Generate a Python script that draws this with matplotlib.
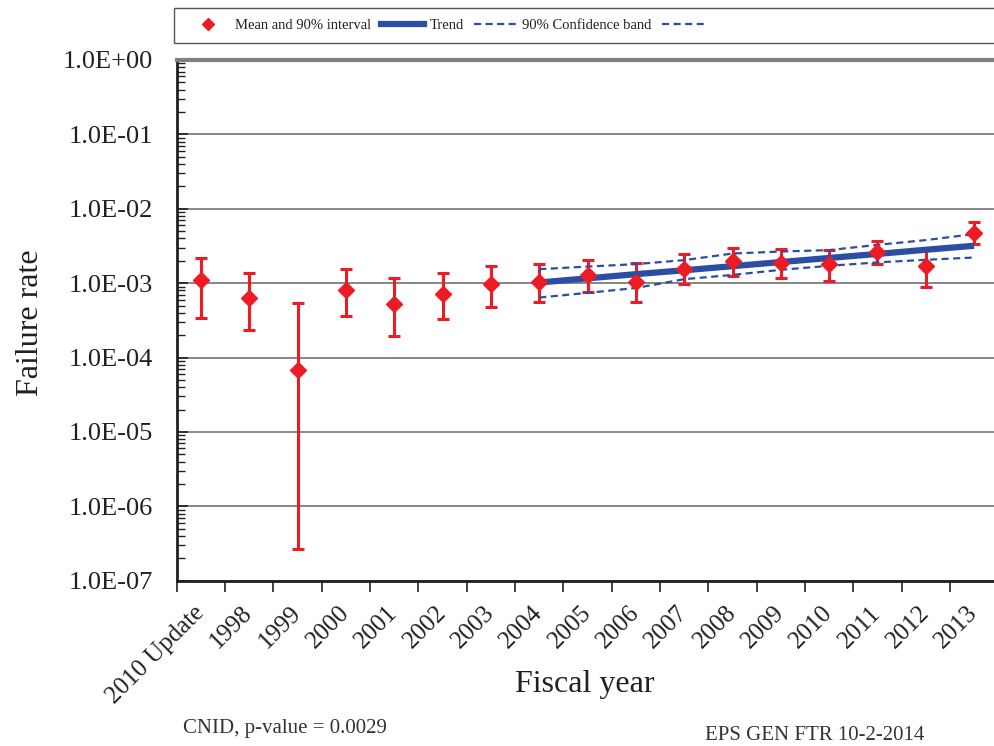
import matplotlib
matplotlib.use('Agg')
import matplotlib.pyplot as plt
import numpy as np
from matplotlib.lines import Line2D
from matplotlib.patches import Rectangle
from matplotlib.ticker import FixedLocator, LogLocator, NullFormatter, FuncFormatter

plt.rcParams['font.family'] = ['Liberation Serif', 'DejaVu Serif']

categories = ['2010 Update', '1998', '1999', '2000', '2001', '2002', '2003', '2004',
              '2005', '2006', '2007', '2008', '2009', '2010', '2011', '2012', '2013']
mean_rate = [1.09e-3, 6.4e-4, 6.8e-5, 8.05e-4, 5.3e-4, 7.2e-4, 9.7e-4, 1.04e-3,
             1.29e-3, 1.05e-3, 1.57e-3, 2.0e-3, 1.88e-3, 1.80e-3, 2.64e-3, 1.71e-3, 4.71e-3]
lower_rate = [3.35e-4, 2.33e-4, 2.65e-7, 3.66e-4, 1.95e-4, 3.27e-4, 4.84e-4, 5.6e-4,
              7.5e-4, 5.6e-4, 9.6e-4, 1.26e-3, 1.17e-3, 1.08e-3, 1.80e-3, 9.0e-4, 3.41e-3]
upper_rate = [2.19e-3, 1.38e-3, 5.4e-4, 1.56e-3, 1.17e-3, 1.39e-3, 1.71e-3, 1.80e-3,
              2.04e-3, 1.84e-3, 2.46e-3, 3.01e-3, 2.87e-3, 2.78e-3, 3.71e-3, 3.01e-3, 6.62e-3]

# trend fitted over 2004-2013
trend_years = categories[7:]
trend_rate = [1.02e-3, 1.16e-3, 1.32e-3, 1.49e-3, 1.69e-3, 1.92e-3, 2.18e-3, 2.47e-3, 2.81e-3, 3.18e-3]
band_upper = [1.54e-3, 1.67e-3, 1.80e-3, 2.04e-3, 2.50e-3, 2.66e-3, 2.78e-3, 3.27e-3, 3.79e-3, 4.57e-3]
band_lower = [6.4e-4, 7.4e-4, 8.6e-4, 1.13e-3, 1.29e-3, 1.51e-3, 1.71e-3, 1.90e-3, 2.06e-3, 2.21e-3]

RED = '#ed1c24'
BLUE = '#2b4ea2'
INK = '#231f20'

fig = plt.figure(figsize=(9.94, 7.46), dpi=100)
ax = fig.add_axes([0.1778, 0.2216, 1 - 0.1778, 0.9196 - 0.2216])

x = np.arange(len(categories))
mean_arr = np.asarray(mean_rate)
yerr = [mean_arr - np.asarray(lower_rate), np.asarray(upper_rate) - mean_arr]
ax.errorbar(x, mean_arr, yerr=yerr, fmt='none', ecolor=RED, elinewidth=2.2,
            capsize=4, capthick=2.2, zorder=3)

tx = np.array([categories.index(c) for c in trend_years])
ax.plot(tx, trend_rate, color=BLUE, linewidth=4.5, solid_capstyle='butt', zorder=4)
ax.plot(tx, band_upper, color=BLUE, linewidth=1.6, linestyle=(0, (3.2, 2)), zorder=4)
ax.plot(tx, band_lower, color=BLUE, linewidth=1.6, linestyle=(0, (3.2, 2)), zorder=4)
ax.plot(x, mean_arr, linestyle='none', marker='D', color=RED, markersize=8, zorder=5)

ax.set_yscale('log')
ax.set_ylim(1e-7, 1.0)
ax.set_xlim(-0.5, -0.5 + 817.3 / 48.33)

ax.yaxis.set_major_locator(LogLocator(base=10, numticks=10))
ax.yaxis.set_major_formatter(FuncFormatter(lambda v, p: f'{v:.1E}'))
ax.yaxis.set_minor_locator(LogLocator(base=10, subs=range(2, 10), numticks=20))
ax.yaxis.set_minor_formatter(NullFormatter())
ax.tick_params(axis='y', which='major', direction='in', length=8, width=1.2,
               pad=17, labelsize=19, labelcolor=INK, color=INK)
ax.tick_params(axis='y', which='minor', direction='in', length=6, width=1.0, color=INK)

ax.set_xticks(x)
ax.set_xticklabels(categories, rotation=45, ha='right', va='center', rotation_mode='anchor')
ax.xaxis.set_minor_locator(FixedLocator(np.arange(-0.5, len(categories), 1.0)))
ax.tick_params(axis='x', which='major', length=0, pad=21, labelsize=18, labelcolor=INK)
ax.tick_params(axis='x', which='minor', direction='out', length=8, width=1.2, color=INK)

ax.grid(axis='y', which='major', color='#666666', linewidth=1.1)
ax.set_axisbelow(True)

for side in ['left', 'bottom']:
    ax.spines[side].set_color(INK)
    ax.spines[side].set_linewidth(2.0)
ax.spines['top'].set_color('#808080')
ax.spines['top'].set_linewidth(3.0)
ax.spines['right'].set_visible(False)

fig.text(0.031, 0.568, 'Failure rate', rotation=90, ha='center', va='center',
         fontsize=23, color=INK)
fig.text(0.588, 0.082, 'Fiscal year', ha='center', va='center', fontsize=23, color=INK)
fig.text(0.184, 0.024, 'CNID, p-value = 0.0029', ha='left', va='center',
         fontsize=15, color='#333333')
fig.text(0.709, 0.0147, 'EPS GEN FTR 10-2-2014', ha='left', va='center',
         fontsize=15, color='#333333')

# legend box runs off the right edge like the original
fig.patches.append(Rectangle((173.5 / 994, 1 - 43.3 / 746), 0.9, 35 / 746,
                             transform=fig.transFigure, facecolor='white',
                             edgecolor='#555555', linewidth=1.0, zorder=0))
handles = [
    Line2D([], [], linestyle='none', marker='D', color=RED, markersize=6),
    Line2D([], [], color=BLUE, linewidth=4.5),
    Line2D([], [], color=BLUE, linewidth=1.6, linestyle=(0, (3.2, 2))),
    Line2D([], [], color=BLUE, linewidth=1.6, linestyle=(0, (3.2, 2))),
]
labels = ['Mean and 90% interval', 'Trend', '90% Confidence band', '']
fig.legend(handles, labels, loc='center left', bbox_to_anchor=(187 / 994, 1 - 25.8 / 746),
           ncol=4, frameon=False, fontsize=10.5, handlelength=2.9, handletextpad=0.4,
           columnspacing=0.7, borderpad=0, borderaxespad=0, labelcolor=INK)

fig.savefig('out.png', dpi=100)
